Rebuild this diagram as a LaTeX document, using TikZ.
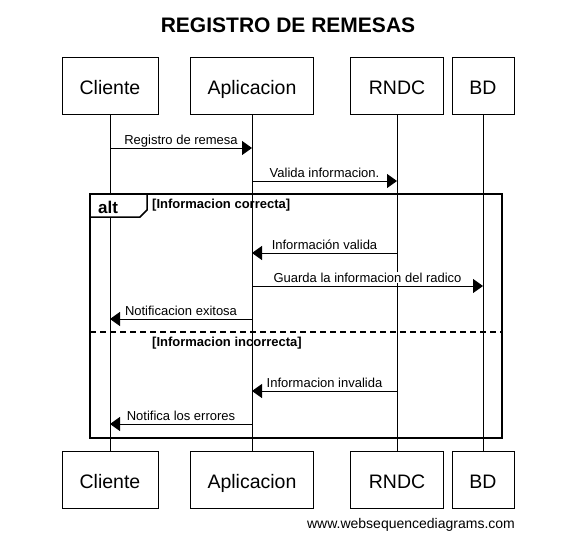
\documentclass[tikz,border=0pt]{standalone}
\usepackage{fontspec}
\setmainfont{Liberation Sans}
\usetikzlibrary{arrows.meta}

\begin{document}
\begin{tikzpicture}[x=1pt, y=-1pt,
    actor/.style={draw, line width=1pt, minimum height=57pt, inner sep=0pt, text height=17pt, text depth=0pt, font=\fontsize{19.5}{21}\selectfont},
    life/.style={line width=1pt},
    msg/.style={line width=1pt, -{Triangle[length=10pt, width=14pt]}},
    lbl/.style={midway, anchor=base, yshift=4pt, fill=white, inner sep=1pt, font=\fontsize{13}{15}\selectfont},
    frame/.style={line width=2pt},
    guard/.style={anchor=base west, inner sep=0pt, font=\bfseries\fontsize{13}{15}\selectfont}]
    \useasboundingbox (0,0) rectangle (577,549);
    % Title
    \node (title) at (288,25) {\bfseries\fontsize{21}{24}\selectfont REGISTRO DE REMESAS};
    % Participants, top and bottom
    \foreach \nm/\cx/\bw/\txt in {cli/110/96/Cliente, app/252/123/Aplicacion, rndc/397/93/RNDC, bd/483/62/BD} {
        \node[actor, minimum width=\bw pt] (\nm Top) at (\cx,85.5) {\txt};
        \node[actor, minimum width=\bw pt] (\nm Bot) at (\cx,479.5) {\txt};
        \draw[life] (\nm Top) -- (\nm Bot);
    }
    % Rows of the messages
    \foreach \r/\ry in {r1/148, r2/181, r3/253, r4/286, r5/319, r6/391, r7/424}
        \coordinate (\r) at (0,\ry);
    \draw[msg] (cliTop |- r1) -- node[lbl] {Registro de remesa} (appTop |- r1);
    \draw[msg] (appTop |- r2) -- node[lbl] {Valida informacion.} (rndcTop |- r2);
    % alt fragment
    \coordinate (fTL) at (90,194);
    \coordinate (fBR) at (502,438);
    \draw[frame] (fTL) rectangle (fBR);
    \draw[frame, line width=1.5pt, fill=white] (fTL) -- (147,194) -- (147,210) -- (140,217) -- (90,217) -- cycle;
    \node[anchor=base west, inner sep=0pt, font=\bfseries\fontsize{17}{19}\selectfont] (alt) at (98,213) {alt};
    \node[guard] (ok) at (152,208) {[Informacion correcta]};
    \draw[msg] (rndcTop |- r3) -- node[lbl] {Información valida} (appTop |- r3);
    \draw[msg] (appTop |- r4) -- node[lbl] {Guarda la informacion del radico} (bdTop |- r4);
    \draw[msg] (appTop |- r5) -- node[lbl] {Notificacion exitosa} (cliTop |- r5);
    \draw[line width=1.6pt, dash pattern=on 6pt off 4pt] (90,332) -- (502,332);
    \node[guard] (nok) at (152,346) {[Informacion incorrecta]};
    \draw[msg] (rndcTop |- r6) -- node[lbl] {Informacion invalida} (appTop |- r6);
    \draw[msg] (appTop |- r7) -- node[lbl] {Notifica los errores} (cliTop |- r7);
    % Footer
    \node[anchor=base, font=\fontsize{14}{16}\selectfont] (site) at (411,528) {www.websequencediagrams.com};
\end{tikzpicture}
\end{document}
